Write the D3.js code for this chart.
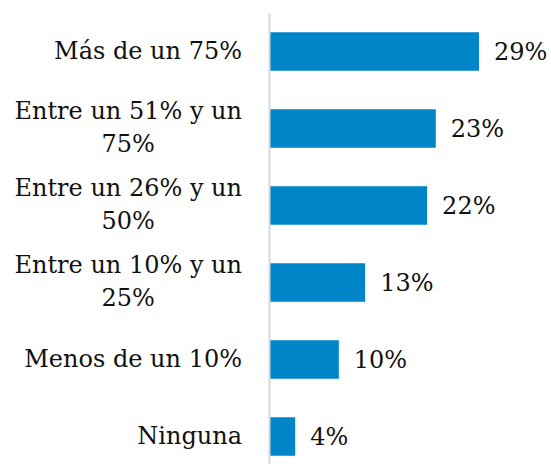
<!DOCTYPE html>
<html>
<head>
<meta charset="utf-8">
<script src="https://cdn.jsdelivr.net/npm/d3@7"></script>
<style>
	body { margin: 0; background: #fff; }
	text { font-family: "DejaVu Serif", serif; fill: #111; }
</style>
</head>
<body>
<svg id="chart" width="551" height="464"></svg>
<script>

// categories, top to bottom ("\n" marks the line break of the label)
var categories = [
	"Más de un 75%",
	"Entre un 51% y un\n75%",
	"Entre un 26% y un\n50%",
	"Entre un 10% y un\n25%",
	"Menos de un 10%",
	"Ninguna"
];

// bar lengths as measured on the picture (labels are the rounded values)
var values = [29.0, 23.0, 21.8, 13.2, 9.55, 3.5];

var valueLabels = ["29%", "23%", "22%", "13%", "10%", "4%"];

var width = 551,
	height = 464,
	axisX = 270,
	labelRight = 242,
	fontSize = 24,
	lineHeight = 33;

var svg = d3.select("#chart");

var yScale = d3.scaleBand()
	.domain(categories)
	.range([13, 475])
	.paddingInner(0.5)
	.paddingOuter(0.25);

var xScale = d3.scaleLinear()
	.domain([0, 29])
	.range([axisX, 479]);

var rows = categories.map(function(c, i)
{
	return { cat: c, value: values[i], label: valueLabels[i] };
});

// bars
svg.selectAll(".bar")
	.data(rows)
	.enter()
	.append("rect")
		.attr("class", "bar")
		.attr("x", xScale(0))
		.attr("y", function(d) { return yScale(d.cat); })
		.attr("width", function(d) { return xScale(d.value) - xScale(0); })
		.attr("height", yScale.bandwidth())
		.style("fill", "#0085c9");

// vertical axis line
svg.append("line")
	.attr("x1", axisX - 0.5)
	.attr("x2", axisX - 0.5)
	.attr("y1", 13)
	.attr("y2", height)
	.style("stroke", "#d9d9d9")
	.style("stroke-width", 2);

// category labels: block right aligned, lines centred within block
svg.selectAll(".cat")
	.data(rows)
	.enter()
	.append("text")
		.attr("class", "cat")
		.style("font-size", fontSize + "px")
		.each(function(d)
		{
			var lines = d.cat.split("\n");
			var t = d3.select(this);
			var cy = yScale(d.cat) + yScale.bandwidth() / 2;
			var first = cy - (lines.length - 1) * lineHeight / 2 - 1;

			lines.forEach(function(l, i)
			{
				t.append("tspan")
					.attr("y", first + i * lineHeight)
					.attr("dy", "0.35em")
					.text(l);
			});

			var maxW = 0;
			t.selectAll("tspan").each(function() { maxW = Math.max(maxW, this.getComputedTextLength()); });

			if(lines.length > 1)
			{
				t.attr("text-anchor", "middle");
				t.selectAll("tspan").attr("x", labelRight - maxW / 2);
			}
			else
			{
				t.attr("text-anchor", "end");
				t.selectAll("tspan").attr("x", labelRight);
			}
		});

// value labels
svg.selectAll(".val")
	.data(rows)
	.enter()
	.append("text")
		.attr("class", "val")
		.attr("x", function(d) { return xScale(d.value) + 15; })
		.attr("y", function(d) { return yScale(d.cat) + yScale.bandwidth() / 2; })
		.attr("dy", "0.35em")
		.style("font-size", fontSize + "px")
		.text(function(d) { return d.label; });

</script>
</body>
</html>
